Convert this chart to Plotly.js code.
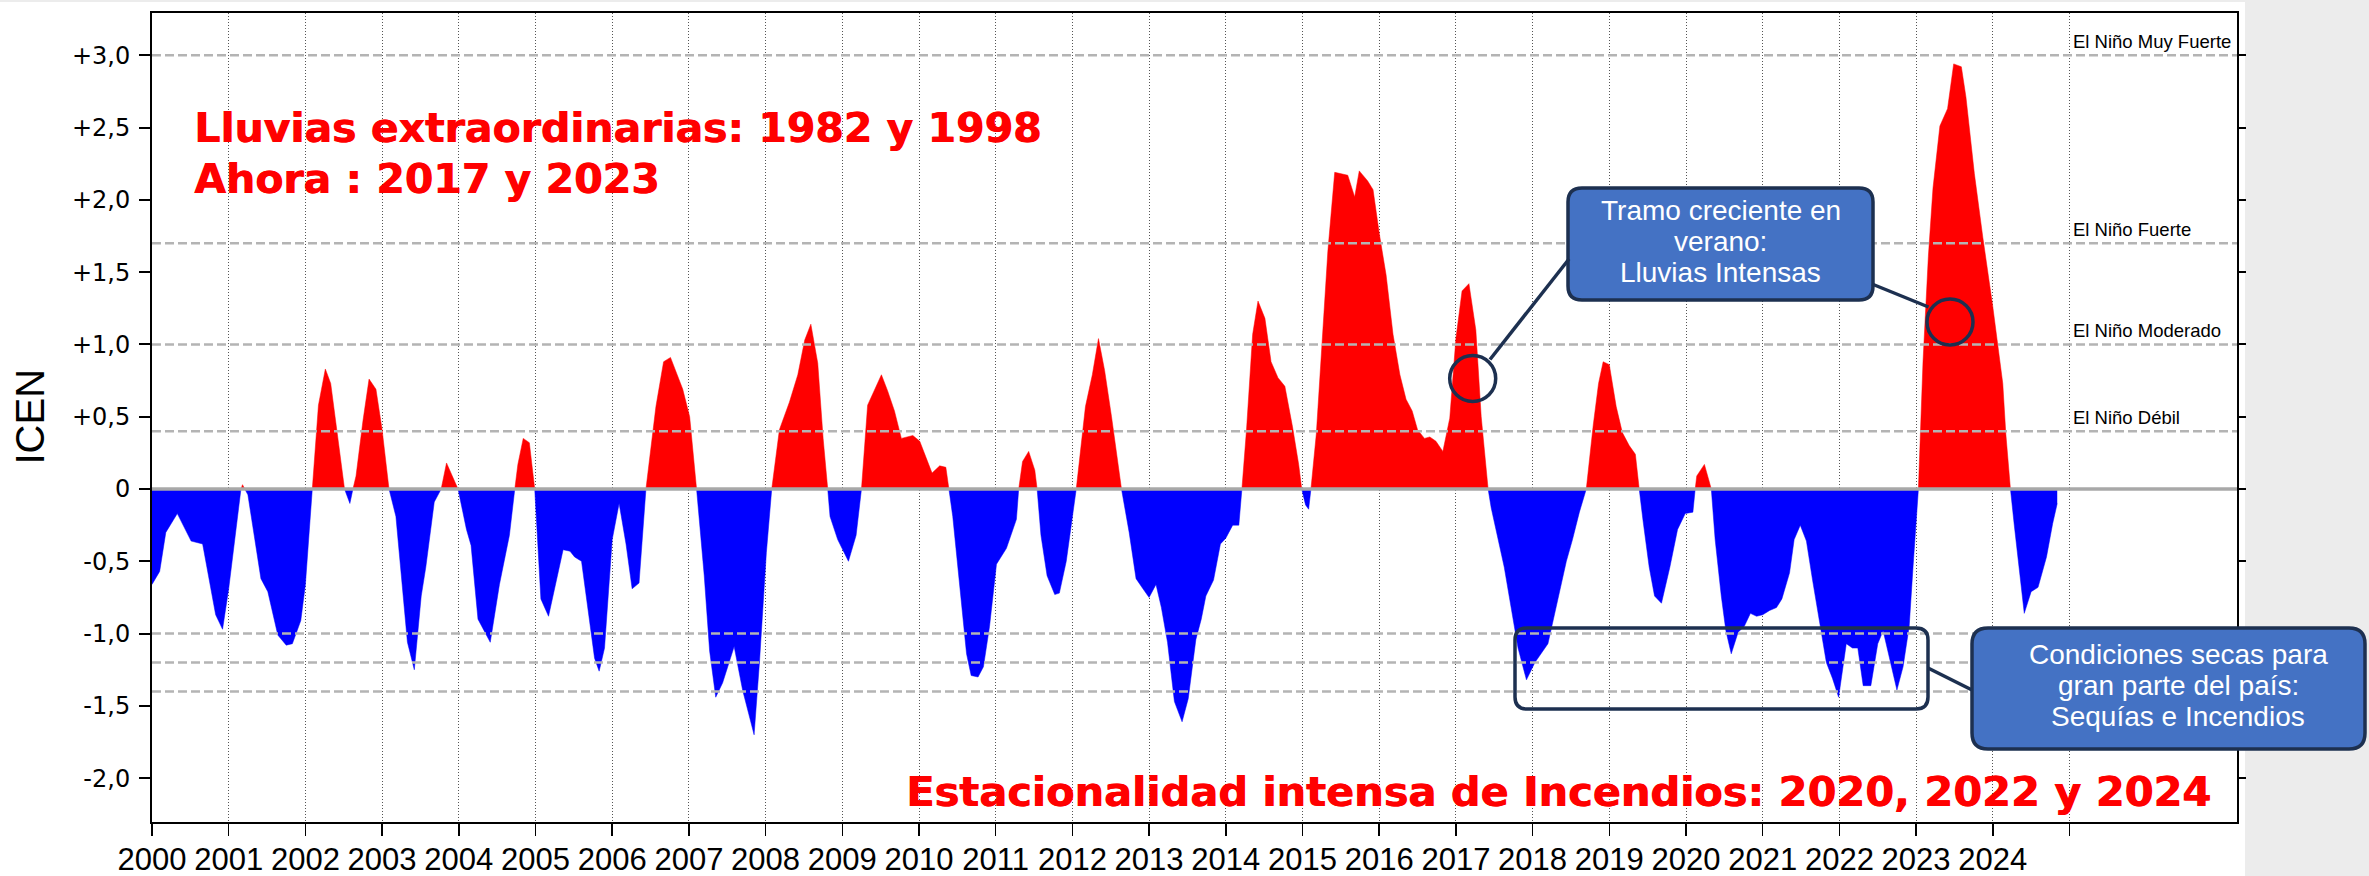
<!DOCTYPE html>
<html>
<head>
<meta charset="utf-8">
<script src="https://cdn.plot.ly/plotly-3.0.1.min.js"></script>
<style>
  html, body { margin: 0; padding: 0; background: #ececec; overflow: hidden; }
  #chart { width: 2369px; height: 876px; }
</style>
</head>
<body>
<div id="chart"></div>
<script>
// ---------------- DATA ----------------
const decimalYear = [
  2000.00, 2000.10, 2000.18, 2000.33, 2000.51, 2000.66, 2000.83, 2000.92,
  2001.00, 2001.10, 2001.16, 2001.18, 2001.21, 2001.25, 2001.42, 2001.51, 2001.64, 2001.75, 2001.83, 2001.94,
  2002.00, 2002.09, 2002.17, 2002.26, 2002.33, 2002.40, 2002.51, 2002.58, 2002.62, 2002.66, 2002.75, 2002.83, 2002.92,
  2003.00, 2003.09, 2003.18, 2003.33, 2003.42, 2003.51, 2003.57, 2003.68, 2003.77, 2003.84, 2003.99,
  2004.10, 2004.16, 2004.25, 2004.41, 2004.53, 2004.66, 2004.73, 2004.77, 2004.84, 2004.92, 2004.99,
  2005.07, 2005.17, 2005.36, 2005.45, 2005.51, 2005.60, 2005.77, 2005.83, 2005.90,
  2006.00, 2006.09, 2006.18, 2006.26, 2006.35, 2006.44, 2006.57, 2006.67, 2006.76, 2006.92,
  2007.01, 2007.10, 2007.20, 2007.27, 2007.35, 2007.44, 2007.59, 2007.70, 2007.85, 2007.92,
  2008.01, 2008.08, 2008.18, 2008.31, 2008.42, 2008.51, 2008.59, 2008.68, 2008.75, 2008.81, 2008.84, 2008.94,
  2009.08, 2009.18, 2009.25, 2009.33, 2009.51, 2009.59, 2009.68, 2009.77, 2009.92,
  2010.01, 2010.17, 2010.27, 2010.35, 2010.39, 2010.44, 2010.53, 2010.62, 2010.68, 2010.77, 2010.84, 2010.92,
  2011.01, 2011.14, 2011.27, 2011.30, 2011.35, 2011.43, 2011.51, 2011.54, 2011.59, 2011.67, 2011.77, 2011.83, 2011.92,
  2012.05, 2012.17, 2012.26, 2012.34, 2012.42, 2012.51, 2012.64, 2012.74, 2012.83, 2012.92,
  2013.00, 2013.09, 2013.16, 2013.24, 2013.33, 2013.43, 2013.51, 2013.61, 2013.68, 2013.74, 2013.84, 2013.93,
  2014.00, 2014.09, 2014.17, 2014.21, 2014.27, 2014.35, 2014.42, 2014.51, 2014.59, 2014.68, 2014.77, 2014.87, 2014.95, 2014.99,
  2015.04, 2015.08, 2015.11, 2015.18, 2015.27, 2015.33, 2015.42, 2015.59, 2015.68, 2015.74, 2015.85, 2015.92,
  2016.00, 2016.09, 2016.18, 2016.27, 2016.35, 2016.43, 2016.50, 2016.59, 2016.66, 2016.74, 2016.83, 2016.92,
  2017.00, 2017.08, 2017.17, 2017.26, 2017.33, 2017.42, 2017.46, 2017.55, 2017.63, 2017.72, 2017.81, 2017.92,
  2018.03, 2018.20, 2018.33, 2018.44, 2018.52, 2018.61, 2018.70, 2018.79, 2018.86, 2018.92,
  2019.00, 2019.09, 2019.17, 2019.26, 2019.34, 2019.39, 2019.44, 2019.52, 2019.59, 2019.68, 2019.79, 2019.89, 2019.99,
  2020.09, 2020.12, 2020.14, 2020.24, 2020.33, 2020.38, 2020.46, 2020.52, 2020.59, 2020.68, 2020.76, 2020.84, 2020.92,
  2021.00, 2021.09, 2021.18, 2021.25, 2021.35, 2021.41, 2021.49, 2021.57, 2021.65, 2021.76, 2021.83, 2021.91, 2021.99,
  2022.09, 2022.17, 2022.24, 2022.31, 2022.41, 2022.50, 2022.57, 2022.65, 2022.75, 2022.83, 2022.91, 2022.96, 2022.99,
  2023.03, 2023.09, 2023.16, 2023.22, 2023.31, 2023.41, 2023.49, 2023.59, 2023.65, 2023.76, 2023.87,
  2024.00, 2024.13, 2024.17, 2024.23, 2024.28, 2024.35, 2024.41, 2024.50, 2024.59, 2024.70, 2024.78, 2024.84
];
const icen = [
  -0.66, -0.57, -0.30, -0.17, -0.36, -0.38, -0.87, -0.97,
  -0.69, -0.24, 0.00, 0.03, 0.00, -0.04, -0.62, -0.71, -1.01, -1.08, -1.07, -0.91,
  -0.66, 0.00, 0.58, 0.83, 0.73, 0.44, 0.00, -0.10, 0.00, 0.09, 0.47, 0.76, 0.69,
  0.41, 0.00, -0.19, -1.06, -1.25, -0.74, -0.54, -0.09, 0.00, 0.18, 0.00,
  -0.28, -0.39, -0.90, -1.06, -0.66, -0.32, 0.00, 0.17, 0.35, 0.32, 0.00,
  -0.76, -0.88, -0.42, -0.43, -0.47, -0.50, -1.17, -1.26, -1.10,
  -0.35, -0.10, -0.38, -0.69, -0.65, 0.00, 0.57, 0.88, 0.91, 0.69,
  0.50, 0.00, -0.60, -1.12, -1.44, -1.34, -1.09, -1.39, -1.70, -1.20,
  -0.44, 0.00, 0.41, 0.60, 0.79, 1.03, 1.14, 0.87, 0.35, 0.00, -0.19, -0.35,
  -0.50, -0.32, 0.00, 0.58, 0.79, 0.68, 0.54, 0.35, 0.37,
  0.33, 0.11, 0.16, 0.15, 0.00, -0.19, -0.66, -1.14, -1.29, -1.30, -1.23, -0.95,
  -0.52, -0.41, -0.21, 0.00, 0.19, 0.26, 0.13, 0.00, -0.32, -0.60, -0.73, -0.72, -0.50,
  0.00, 0.57, 0.79, 1.04, 0.82, 0.50, 0.00, -0.30, -0.62, -0.69,
  -0.75, -0.66, -0.82, -1.06, -1.47, -1.61, -1.45, -1.04, -0.90, -0.74, -0.63, -0.38,
  -0.34, -0.25, -0.25, 0.00, 0.41, 1.07, 1.30, 1.18, 0.88, 0.77, 0.71, 0.43, 0.17, 0.00,
  -0.11, -0.14, 0.00, 0.38, 1.10, 1.64, 2.19, 2.17, 2.02, 2.20, 2.13, 2.07,
  1.77, 1.48, 1.07, 0.79, 0.62, 0.54, 0.41, 0.35, 0.36, 0.33, 0.26, 0.49,
  1.04, 1.37, 1.42, 1.10, 0.50, 0.00, -0.13, -0.35, -0.54, -0.82, -1.10, -1.32,
  -1.20, -1.07, -0.76, -0.50, -0.35, -0.16, 0.00, 0.44, 0.73, 0.88,
  0.86, 0.57, 0.39, 0.30, 0.24, 0.00, -0.22, -0.54, -0.74, -0.79, -0.54, -0.28, -0.17,
  -0.16, 0.00, 0.09, 0.17, 0.00, -0.35, -0.74, -0.98, -1.14, -0.99, -0.95, -0.86, -0.88,
  -0.87, -0.84, -0.82, -0.76, -0.58, -0.35, -0.25, -0.36, -0.63, -0.96, -1.20, -1.31, -1.44,
  -1.07, -1.10, -1.10, -1.36, -1.36, -1.07, -0.98, -1.17, -1.39, -1.23, -0.95, -0.54, -0.32,
  0.00, 0.88, 1.61, 2.08, 2.51, 2.63, 2.94, 2.92, 2.71, 2.18, 1.74,
  1.26, 0.73, 0.38, 0.00, -0.25, -0.58, -0.86, -0.71, -0.68, -0.47, -0.24, -0.10
];

const xTickVals = [2000, 2001, 2002, 2003, 2004, 2005, 2006, 2007, 2008, 2009, 2010, 2011, 2012,
                   2013, 2014, 2015, 2016, 2017, 2018, 2019, 2020, 2021, 2022, 2023, 2024, 2025];
const xTickText = ['2000', '2001', '2002', '2003', '2004', '2005', '2006', '2007', '2008', '2009', '2010', '2011', '2012',
                   '2013', '2014', '2015', '2016', '2017', '2018', '2019', '2020', '2021', '2022', '2023', '2024', ''];
const yTickVals = [-2.0, -1.5, -1.0, -0.5, 0, 0.5, 1.0, 1.5, 2.0, 2.5, 3.0];
const yTickText = ['-2,0', '-1,5', '-1,0', '-0,5', '0', '+0,5', '+1,0', '+1,5', '+2,0', '+2,5', '+3,0'];

const thresholdValues = [3.0, 1.7, 1.0, 0.4, -1.0, -1.2, -1.4];
const ninoLabels = ['El Niño Muy Fuerte', 'El Niño Fuerte', 'El Niño Moderado', 'El Niño Débil'];
const ninoLabelValues = [3.0, 1.7, 1.0, 0.4];

const headline1 = 'Lluvias extraordinarias: 1982 y 1998';
const headline2 = 'Ahora : 2017 y 2023';
const footline = 'Estacionalidad intensa de Incendios: 2020, 2022 y 2024';
const callout1Lines = ['Tramo creciente en', 'verano:', 'Lluvias Intensas'];
const callout2Lines = ['Condiciones secas para', 'gran parte del país:', 'Sequías e Incendios'];

// ---------------- LAYOUT GEOMETRY ----------------
const W = 2369, H = 876;
const PL = 152, PT = 13, PW = 2085, PH = 809;
const PX_PER_YEAR = 76.7, PX_PER_UNIT = 144.6, ZERO_PX = 489;
const xRange = [2000, 2000 + PW / PX_PER_YEAR];
const yRange = [(ZERO_PX - (PT + PH)) / PX_PER_UNIT, (ZERO_PX - PT) / PX_PER_UNIT];

const px = x => (x - PL) / PW;            // page pixel -> paper x
const py = y => (PT + PH - y) / PH;       // page pixel -> paper y

function rrect(x0, y0, x1, y1, r) {
  const X = px, Y = py;
  return 'M' + X(x0 + r) + ',' + Y(y0) +
    ' L' + X(x1 - r) + ',' + Y(y0) +
    ' Q' + X(x1) + ',' + Y(y0) + ' ' + X(x1) + ',' + Y(y0 + r) +
    ' L' + X(x1) + ',' + Y(y1 - r) +
    ' Q' + X(x1) + ',' + Y(y1) + ' ' + X(x1 - r) + ',' + Y(y1) +
    ' L' + X(x0 + r) + ',' + Y(y1) +
    ' Q' + X(x0) + ',' + Y(y1) + ' ' + X(x0) + ',' + Y(y1 - r) +
    ' L' + X(x0) + ',' + Y(y0 + r) +
    ' Q' + X(x0) + ',' + Y(y0) + ' ' + X(x0 + r) + ',' + Y(y0) + ' Z';
}

const NAVY = '#1d3050';
const BOXBLUE = '#4472C4';

// ---------------- TRACES ----------------
const positive = icen.map(v => Math.max(v, 0));
const negative = icen.map(v => Math.min(v, 0));

const traces = [
  { type: 'scatter', mode: 'lines', x: decimalYear, y: negative, fill: 'tozeroy',
    fillcolor: '#0000FF', line: { color: '#0000FF', width: 0.5 }, hoverinfo: 'skip', showlegend: false },
  { type: 'scatter', mode: 'lines', x: decimalYear, y: positive, fill: 'tozeroy',
    fillcolor: '#FF0000', line: { color: '#FF0000', width: 0.5 }, hoverinfo: 'skip', showlegend: false },
  { type: 'scatter', mode: 'markers', x: [2000], y: [0], yaxis: 'y2',
    marker: { size: 1, opacity: 0 }, hoverinfo: 'skip', showlegend: false }
];

// ---------------- SHAPES ----------------
const shapes = [];
// white page area (the right strip and top hairline stay light gray)
shapes.push({ type: 'rect', xref: 'paper', yref: 'paper', layer: 'below',
  x0: px(-20), x1: px(2245), y0: py(900), y1: py(2),
  fillcolor: '#ffffff', line: { width: 0 } });

thresholdValues.forEach(v => shapes.push({
  type: 'line', xref: 'paper', yref: 'y', x0: 0, x1: 1, y0: v, y1: v, layer: 'above',
  line: { color: '#b4b4b4', width: 2.5, dash: '9px,4px' } }));
shapes.push({ type: 'line', xref: 'paper', yref: 'y', x0: 0, x1: 1, y0: 0, y1: 0, layer: 'above',
  line: { color: '#a8a8a8', width: 3.5 } });

// callout 1 box, circles and connectors
shapes.push({ type: 'path', xref: 'paper', yref: 'paper', layer: 'above',
  path: rrect(1568, 188, 1873, 300, 14), fillcolor: BOXBLUE, line: { color: NAVY, width: 3.5 } });
shapes.push({ type: 'line', xref: 'paper', yref: 'paper', layer: 'above',
  x0: px(1490), y0: py(359.5), x1: px(1569), y1: py(259), line: { color: NAVY, width: 3.5 } });
shapes.push({ type: 'line', xref: 'paper', yref: 'paper', layer: 'above',
  x0: px(1872), y0: py(284), x1: px(1928.5), y1: py(307), line: { color: NAVY, width: 3.5 } });
shapes.push({ type: 'circle', xref: 'paper', yref: 'paper', layer: 'above',
  x0: px(1472.7 - 23), x1: px(1472.7 + 23), y0: py(378.5 + 23), y1: py(378.5 - 23),
  line: { color: NAVY, width: 3.5 } });
shapes.push({ type: 'circle', xref: 'paper', yref: 'paper', layer: 'above',
  x0: px(1950 - 23), x1: px(1950 + 23), y0: py(322 + 23), y1: py(322 - 23),
  line: { color: NAVY, width: 3.5 } });

// callout 2: frame around the dry lows, connector and box
shapes.push({ type: 'path', xref: 'paper', yref: 'paper', layer: 'above',
  path: rrect(1515, 628, 1928, 709, 12), line: { color: NAVY, width: 3.5 } });
shapes.push({ type: 'line', xref: 'paper', yref: 'paper', layer: 'above',
  x0: px(1928), y0: py(668), x1: px(1972), y1: py(690), line: { color: NAVY, width: 3.5 } });
shapes.push({ type: 'path', xref: 'paper', yref: 'paper', layer: 'above',
  path: rrect(1972, 628, 2365, 749, 16), fillcolor: BOXBLUE, line: { color: NAVY, width: 3.5 } });

// ---------------- ANNOTATIONS ----------------
const annotations = [];
annotations.push({ text: 'ICEN', xref: 'paper', yref: 'paper', x: px(30), y: py(416.5),
  xanchor: 'center', yanchor: 'middle', textangle: -90, showarrow: false,
  font: { family: 'Liberation Sans, Arial, sans-serif', size: 40, color: '#000000' } });

ninoLabels.forEach((t, i) => annotations.push({
  text: t, xref: 'paper', yref: 'y', x: px(2071), y: ninoLabelValues[i], yshift: 14,
  xanchor: 'left', yanchor: 'middle', showarrow: false,
  font: { family: 'Liberation Sans, Arial, sans-serif', size: 18.5, color: '#000000' } }));

const redFont = (s) => ({ family: 'DejaVu Sans, sans-serif', size: s, color: '#FF0000',
  shadow: '0.8px 0px 0px #FF0000' });
annotations.push({ text: '<b>' + headline1 + '</b>', xref: 'paper', yref: 'paper',
  x: px(192), y: py(127.7), xanchor: 'left', yanchor: 'middle', showarrow: false, font: redFont(41) });
annotations.push({ text: '<b>' + headline2 + '</b>', xref: 'paper', yref: 'paper',
  x: px(192), y: py(179.3), xanchor: 'left', yanchor: 'middle', showarrow: false, font: redFont(41) });
annotations.push({ text: '<b>' + footline + '</b>', xref: 'paper', yref: 'paper',
  x: px(904), y: py(791.7), xanchor: 'left', yanchor: 'middle', showarrow: false, font: redFont(41.5) });

const c1y = [210.6, 241.2, 272.2];
callout1Lines.forEach((t, i) => annotations.push({
  text: t, xref: 'paper', yref: 'paper', x: px(1720.5), y: py(c1y[i]),
  xanchor: 'center', yanchor: 'middle', showarrow: false,
  font: { family: 'Liberation Sans, Arial, sans-serif', size: 28, color: '#ffffff' } }));
const c2y = [654.2, 685.2, 716.2];
callout2Lines.forEach((t, i) => annotations.push({
  text: t, xref: 'paper', yref: 'paper', x: px(2178), y: py(c2y[i]),
  xanchor: 'center', yanchor: 'middle', showarrow: false,
  font: { family: 'Liberation Sans, Arial, sans-serif', size: 28, color: '#ffffff' } }));

// ---------------- LAYOUT ----------------
const layout = {
  width: W, height: H, autosize: false,
  margin: { l: PL, r: W - PL - PW, t: PT, b: H - PT - PH, pad: 0 },
  paper_bgcolor: '#ececec', plot_bgcolor: '#ffffff',
  showlegend: false, hovermode: false,
  font: { family: 'Liberation Sans, Arial, sans-serif', color: '#000000' },
  xaxis: {
    range: xRange, tickmode: 'array', tickvals: xTickVals, ticktext: xTickText,
    ticks: 'outside', ticklen: 12, tickwidth: 1.5, tickcolor: '#000000',
    showline: true, mirror: true, linecolor: '#000000', linewidth: 2,
    showgrid: true, gridcolor: '#555555', gridwidth: 1, griddash: '1px,2px',
    zeroline: false, ticklabelstandoff: -3,
    tickfont: { family: 'Liberation Sans, Arial, sans-serif', size: 31, color: '#000000' }
  },
  yaxis: {
    range: yRange, tickmode: 'array', tickvals: yTickVals, ticktext: yTickText,
    ticks: 'outside', ticklen: 11, tickwidth: 2, tickcolor: '#000000',
    showline: true, mirror: true, linecolor: '#000000', linewidth: 2,
    showgrid: false, zeroline: false, ticklabelstandoff: 4,
    tickfont: { family: 'DejaVu Sans, sans-serif', size: 24, color: '#000000' }
  },
  yaxis2: {
    overlaying: 'y', side: 'right', anchor: 'x', range: yRange,
    tickmode: 'array', tickvals: yTickVals, ticks: 'outside', ticklen: 8, tickwidth: 2,
    tickcolor: '#000000', showticklabels: false, showgrid: false, zeroline: false, showline: false
  },
  shapes: shapes,
  annotations: annotations
};

Plotly.newPlot('chart', traces, layout, { staticPlot: true, displayModeBar: false });
</script>
</body>
</html>
